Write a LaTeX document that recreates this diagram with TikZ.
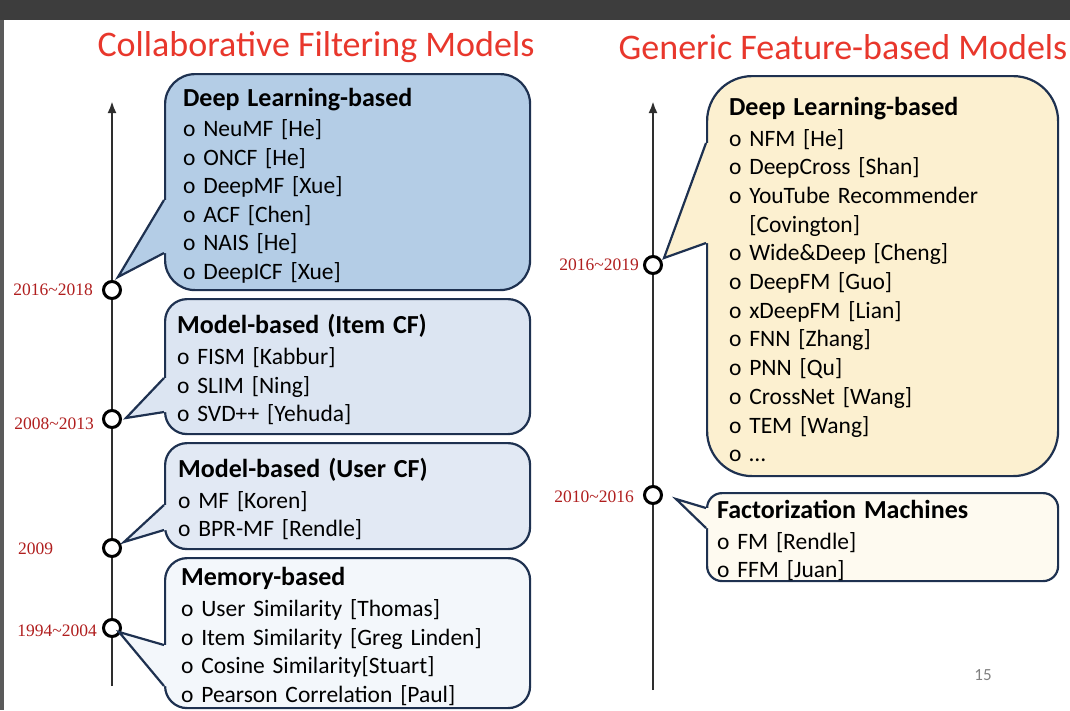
\documentclass[tikz,border=0pt]{standalone}
\usepackage{fontspec}
\setmainfont{Carlito}
\newfontfamily\datefont{Liberation Serif}
\usetikzlibrary{arrows.meta}

\definecolor{titlered}{HTML}{E8372C}
\definecolor{datered}{HTML}{B01E1E}
\definecolor{boxline}{HTML}{1E3150}
\definecolor{deepblue}{HTML}{B4CDE6}
\definecolor{itemblue}{HTML}{DCE5F2}
\definecolor{userblue}{HTML}{E2E9F4}
\definecolor{memblue}{HTML}{F3F7FB}
\definecolor{deepyellow}{HTML}{FCF0D0}
\definecolor{fmyellow}{HTML}{FEFAF0}
\definecolor{slidebar}{HTML}{3D3D3D}

\newcommand{\headfont}{\bfseries\fontsize{26}{30}\selectfont}

\begin{document}
\begin{tikzpicture}[
		x = 1pt, y = -1pt,
		headline/.style = { text = titlered, font = \fontsize{36}{40}\selectfont },
		timeline/.style = { draw = black!82, line width = 2.8pt, -{Latex[length = 12pt, width = 9pt]} },
		era/.style = { draw, circle, line width = 3pt, fill = white, minimum size = 17pt, inner sep = 0pt },
		date/.style = { text = datered, font = \datefont\fontsize{17.5}{20}\selectfont, inner sep = 0pt },
		callbox/.style = { draw = boxline, line width = 2.2pt, anchor = north west, align = left, inner ysep = 0pt,
			font = \fontsize{23.5}{28.5}\selectfont, execute at begin node = {\rule{0pt}{25pt}\ignorespaces} },
		tail/.style = { draw = boxline, line width = 2.2pt, line join = miter }
	]
	\useasboundingbox (0,0) rectangle (1070,710);
	\fill [slidebar] (0,0) rectangle (1070,20);
	\fill [slidebar!85] (0,20) rectangle (3.5,710);

	% titles
	\node [headline] (cftitle) at (316,47) { Collaborative Filtering Models };
	\node [headline] (gftitle) at (843,47) { Generic Feature-based Models };

	% time axes
	\coordinate (cfstart) at (112,686);
	\coordinate (cfend) at (112,101);
	\coordinate (gfstart) at (653,690);
	\coordinate (gfend) at (653,101);
	\draw [timeline] (cfstart) -- (cfend);
	\draw [timeline] (gfstart) -- (gfend);

	\node [era] (cf2016) at (112,290) {};
	\node [era] (cf2008) at (112,419) {};
	\node [era] (cf2009) at (112,548) {};
	\node [era] (cf1994) at (112,628) {};
	\node [era] (gf2016) at (653,265) {};
	\node [era] (gf2010) at (653,495) {};

	\node [date, anchor = east] (cf2016date) at (93,290) { 2016\textasciitilde 2018 };
	\node [date, anchor = east] (cf2008date) at (94,424) { 2008\textasciitilde 2013 };
	\node [date, anchor = west] (cf2009date) at (18,549) { 2009 };
	\node [date, anchor = east] (cf1994date) at (97,631) { 1994\textasciitilde 2004 };
	\node [date, anchor = east] (gf2016date) at (639,265) { 2016\textasciitilde 2019 };
	\node [date, anchor = east] (gf2010date) at (634,497) { 2010\textasciitilde 2016 };

	% model boxes
	\node [callbox, fill = deepblue, rounded corners = 30pt, inner xsep = 18pt, text width = 329pt, minimum height = 216pt] (cfdeep) at (164,73) {
		{\headfont Deep Learning-based}\\[2pt]
		o NeuMF [He]\\
		o ONCF [He]\\
		o DeepMF [Xue]\\
		o ACF [Chen]\\
		o NAIS [He]\\
		o DeepICF [Xue]
	};
	\node [callbox, fill = itemblue, rounded corners = 22pt, inner xsep = 12pt, text width = 341pt, minimum height = 135pt] (cfitem) at (164,298) {
		{\headfont Model-based (Item CF)}\\[2.5pt]
		o FISM [Kabbur]\\
		o SLIM [Ning]\\
		o SVD++ [Yehuda]
	};
	\node [callbox, fill = userblue, rounded corners = 22pt, inner xsep = 13pt, text width = 339pt, minimum height = 106pt] (cfuser) at (164,442) {
		{\headfont Model-based (User CF)}\\[2.5pt]
		o MF [Koren]\\
		o BPR-MF [Rendle]
	};
	\node [callbox, fill = memblue, rounded corners = 22pt, inner xsep = 16pt, text width = 333pt, minimum height = 150pt] (cfmem) at (164,557) {
		{\headfont Memory-based}\\[2.5pt]
		o User Similarity [Thomas]\\
		o Item Similarity [Greg Linden]\\
		o Cosine Similarity[Stuart]\\
		o Pearson Correlation [Paul]
	};
	\node [callbox, fill = deepyellow, rounded corners = 45pt, inner xsep = 22pt, text width = 307pt, minimum height = 400pt, font = \fontsize{23.5}{28.7}\selectfont] (gfdeep) at (706,75) {
		{\headfont Deep Learning-based}\\[2pt]
		o NFM [He]\\
		o DeepCross [Shan]\\
		o YouTube Recommender\\
		\phantom{o\ }[Covington]\\
		o Wide\&Deep [Cheng]\\
		o DeepFM [Guo]\\
		o xDeepFM [Lian]\\
		o FNN [Zhang]\\
		o PNN [Qu]\\
		o CrossNet [Wang]\\
		o TEM [Wang]\\
		o …
	};
	\node [callbox, fill = fmyellow, rounded corners = 15pt, inner xsep = 10pt, text width = 331pt, minimum height = 88pt] (gffm) at (706,492) {
		{\headfont Factorization Machines}\\[2.5pt]
		o FM [Rendle]\\
		o FFM [Juan]
	};

	% pointers from the boxes to the axes
	\foreach \boxfill/\tip/\upper/\lower in {%
		deepblue/{118,277}/{164,200}/{164,253},
		itemblue/{126,418}/{164,378}/{164,412},
		userblue/{124,542}/{164,505}/{164,530},
		memblue/{119,632}/{164,645}/{164,686},
		deepyellow/{664,258}/{706,143}/{706,243},
		fmyellow/{676,499}/{706,508}/{706,528}%
	} {
		\fill [\boxfill] (\upper) -- (\tip) -- (\lower) -- ([xshift = 4pt]\lower) -- ([xshift = 4pt]\upper) -- cycle;
		\draw [tail] (\upper) -- (\tip) -- (\lower);
	}

	\node [text = gray, font = \fontsize{17}{20}\selectfont] (pagenum) at (983,675) { 15 };
\end{tikzpicture}
\end{document}
